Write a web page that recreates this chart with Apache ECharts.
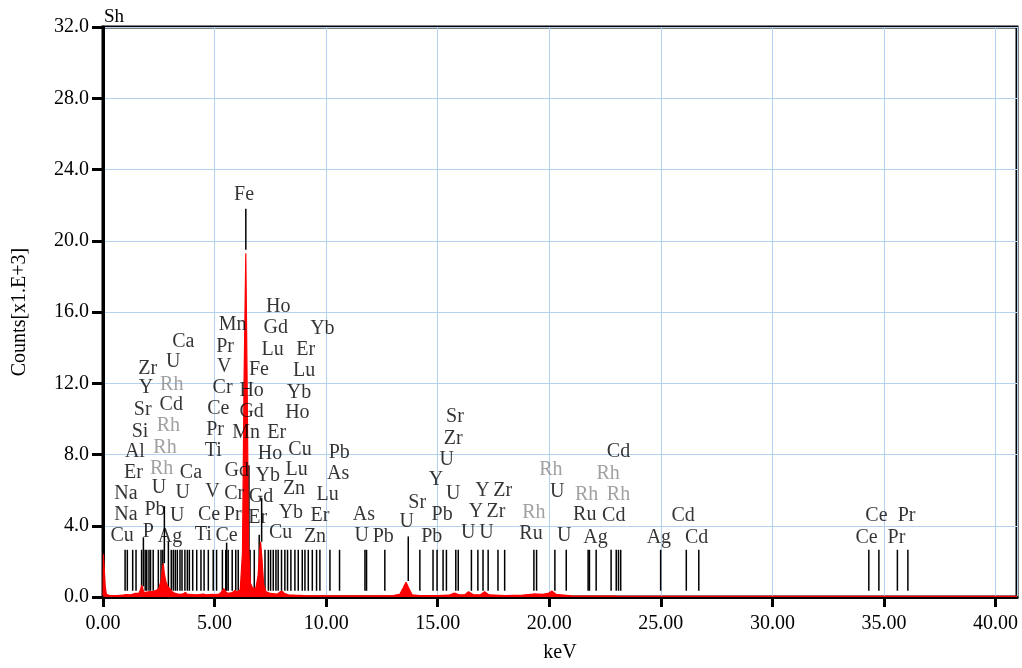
<!DOCTYPE html>
<html>
<head>
<meta charset="utf-8">
<script src="https://cdn.jsdelivr.net/npm/echarts@6/dist/echarts.min.js"></script>
<style>
html,body{margin:0;padding:0;background:#fff;}
#c{width:1022px;height:668px;}
</style>
</head>
<body>
<div id="c"></div>
<script>
// ---- Spectrum (keV, counts x1000) ----
const spectrumKeV = [0,0.02,0.06,0.1,0.15,0.3,0.6,0.9,1.0,1.25,1.45,1.5,1.6,1.68,1.74,1.8,1.86,1.95,2.02,2.1,2.16,2.22,2.3,2.4,2.5,2.6,2.66,2.7,2.75,2.82,2.9,3.0,3.1,3.2,3.4,3.6,3.69,3.78,4.0,4.2,4.5,4.6,4.9,5.0,5.2,5.32,5.41,5.5,5.6,5.8,5.9,6.0,6.15,6.25,6.32,6.4,6.46,6.52,6.6,6.7,6.85,6.95,7.02,7.06,7.12,7.2,7.3,7.5,7.8,7.95,8.04,8.12,8.3,8.6,9,10,11,12,13.0,13.3,13.45,13.58,13.7,13.85,14.2,15,15.5,15.75,15.95,16.2,16.38,16.6,16.9,17.1,17.3,18,18.8,19.3,19.7,19.95,20.12,20.3,21,23,26,30,36,40.96];
const spectrumCounts = [0.1,2.4,2.3,0.6,0.15,0.08,0.08,0.1,0.14,0.12,0.2,0.22,0.2,0.4,0.66,0.4,0.22,0.28,0.36,0.3,0.36,0.3,0.32,0.38,0.5,0.9,1.6,1.88,1.3,0.85,0.6,0.45,0.3,0.22,0.15,0.18,0.26,0.16,0.14,0.12,0.16,0.12,0.15,0.14,0.16,0.3,0.48,0.3,0.2,0.25,0.36,0.3,0.4,2.5,12,19.3,12,3,0.8,0.5,0.5,1.2,2.6,3.1,2.2,0.7,0.3,0.2,0.16,0.3,0.32,0.2,0.12,0.1,0.08,0.07,0.07,0.07,0.08,0.15,0.5,0.83,0.5,0.12,0.08,0.08,0.1,0.22,0.12,0.12,0.3,0.12,0.12,0.3,0.12,0.08,0.1,0.17,0.15,0.2,0.33,0.15,0.06,0.05,0.04,0.04,0.03,0.03];

// ---- Element marker lines (keV) ----
const markerKeV = [0.99,1.09,1.33,1.48,1.73,1.89,1.96,2.06,2.13,2.25,2.48,2.60,2.68,3.06,3.15,3.24,3.33,3.45,3.54,3.67,3.78,3.87,4.02,4.20,4.39,4.53,4.72,4.94,
  5.09,5.35,5.50,5.61,5.79,5.95,6.06,6.59,6.78,7.26,7.41,7.51,7.63,7.75,7.85,8.0,8.15,8.27,8.42,8.6,8.75,8.93,9.05,9.2,9.38,9.57,9.72,
  10.17,10.6,11.74,11.81,12.63,14.2,14.79,14.97,15.24,15.39,15.81,15.92,16.51,16.8,17.03,17.26,17.7,18.0,19.31,19.43,20.25,20.76,21.74,21.8,22.1,22.77,23.0,23.1,23.2,24.99,26.14,26.7,34.32,34.77,35.6,36.07];
const markerTopCounts = 2.65;
const markerBottomCounts = 0.35;
const tallMarkerKeV = [6.40,1.81,2.75,2.93,5.54,6.54,7.11,7.00,13.68];
const tallMarkerTop = [21.8,3.35,5.1,3.1,3.05,7.4,5.55,3.5,3.4];
const tallMarkerBottom = [19.5,0.6,1.9,0.35,0.35,0.4,3.1,0.4,0.9];

// ---- Element labels ----
const elemNames = ['Cu','P','Ag','Ti','Ce','Cu','Zn','Na','Pb','U','Ce','Pr','Er','Yb','Er','Na','U','U','V','Cr','Gd','Zn','Lu','Er','Ca','Gd','Yb','Lu','As','Al','Ti','Ho','Cu','Pb','Si','Pr','Mn','Er','Sr','Cd','Ce','Gd','Ho','Y','Cr','Ho','Yb','Zr','U','V','Fe','Lu','Ca','Pr','Lu','Er','Mn','Gd','Yb','Ho','Fe',
  'Sr','Zr','U','Y','U','Sr','Pb','U','As','U','Pb','Pb','Y','Zr','Y','Zr','U','U','Ru','U','U','Cd','Ru','Cd','Ag','Ag','Cd','Cd','Ce','Pr','Ce','Pr'];
const elemKeV = [0.86,2.03,3.00,4.49,5.54,7.96,9.50,1.03,2.33,3.33,4.75,5.81,6.93,8.42,9.72,1.03,2.51,3.57,4.91,5.88,7.08,8.56,10.07,1.36,3.94,5.99,7.38,8.68,10.54,1.43,4.94,7.48,8.83,10.59,1.66,5.02,6.41,7.78,1.78,3.06,5.17,6.66,8.71,1.93,5.36,6.66,8.78,2.00,3.15,5.43,6.99,9.01,3.60,5.47,7.60,9.08,5.81,7.74,9.83,7.85,6.32,
  15.77,15.69,15.40,14.92,15.69,14.08,15.20,13.61,11.69,11.59,12.56,14.73,17.01,17.91,16.71,17.61,16.37,17.19,19.18,20.35,20.67,23.10,21.59,22.89,22.07,24.91,26.0,26.6,34.66,36.01,34.22,35.56];
const elemCounts = [3.63,3.82,3.54,3.68,3.63,3.78,3.54,4.79,5.07,4.74,4.79,4.79,4.61,4.89,4.71,5.94,6.28,6.04,6.06,5.96,5.78,6.22,5.91,7.17,7.17,7.24,6.96,7.29,7.06,8.35,8.37,8.22,8.46,8.26,9.46,9.56,9.37,9.37,10.68,10.94,10.72,10.57,10.5,11.93,11.93,11.74,11.65,13.0,13.35,13.07,12.91,12.89,14.48,14.24,14.06,14.06,15.48,15.26,15.21,16.46,22.75,
  10.26,9.06,7.89,6.74,5.94,5.48,4.79,4.37,4.76,3.59,3.54,3.54,6.13,6.13,4.98,4.93,3.78,3.78,3.74,6.09,3.63,8.35,4.79,4.74,3.5,3.5,4.74,3.5,4.71,4.71,3.5,3.5];
const rhLabelKeV = [2.63,2.78,2.93,3.08,19.31,20.07,22.64,21.67,23.10];
const rhLabelCounts = [7.39,8.56,9.79,12.07,4.89,7.29,7.11,5.91,5.91];

const xMin = 0, xMax = 40.96, xStep = 5;
const yMin = 0, yMax = 32, yStep = 4;

const FONT = "'Liberation Serif', 'Times New Roman', serif";

const spectrum = spectrumKeV.map((k, i) => [k, spectrumCounts[i]]);
const markers = markerKeV.map(k => [k, markerTopCounts, markerBottomCounts])
  .concat(tallMarkerKeV.map((k, i) => [k, tallMarkerTop[i], tallMarkerBottom[i]]));
const labels = elemNames.map((n, i) => [elemKeV[i], elemCounts[i], n]);
const rhLabels = rhLabelKeV.map((k, i) => [k, rhLabelCounts[i], 'Rh']);

const chart = echarts.init(document.getElementById('c'), null, {renderer: 'canvas'});
const labelSeries = (data, color) => ({
  type: 'scatter',
  data: data,
  symbolSize: 1,
  itemStyle: {color: 'transparent'},
  silent: true,
  z: 5,
  label: {
    show: true,
    position: 'inside',
    offset: [0, 3],
    formatter: p => p.data[2],
    color: color,
    fontFamily: FONT,
    fontSize: 20
  }
});

chart.setOption({
  animation: false,
  backgroundColor: '#fff',
  grid: {left: 103, right: 5, top: 27, bottom: 65, show: true, borderColor: '#000', borderWidth: 3, backgroundColor: 'transparent'},
  graphic: [{
    type: 'text', left: 104, top: 8,
    style: {text: 'Sh', font: '19px ' + FONT, fill: '#000'}
  }],
  xAxis: {
    type: 'value', min: xMin, max: xMax, interval: xStep,
    name: 'keV', nameLocation: 'middle', nameGap: 46,
    nameTextStyle: {fontFamily: FONT, fontSize: 20, color: '#000'},
    axisLine: {show: true, lineStyle: {color: '#000', width: 3}},
    axisTick: {show: true, length: 10, lineStyle: {color: '#000', width: 3}},
    axisLabel: {fontFamily: FONT, fontSize: 20, color: '#000', margin: 17, showMaxLabel: false,
      formatter: v => v.toFixed(2)},
    splitLine: {show: true, lineStyle: {color: '#b4d2f0', width: 1}}
  },
  yAxis: {
    type: 'value', min: yMin, max: yMax, interval: yStep,
    name: 'Counts[x1.E+3]', nameLocation: 'middle', nameGap: 73,
    nameTextStyle: {fontFamily: FONT, fontSize: 20, color: '#000'},
    axisLine: {show: true, lineStyle: {color: '#000', width: 3}},
    axisTick: {show: true, length: 11, lineStyle: {color: '#000', width: 3}},
    axisLabel: {fontFamily: FONT, fontSize: 20, color: '#000', margin: 14,
      formatter: v => v.toFixed(1)},
    splitLine: {show: true, lineStyle: {color: '#b4d2f0', width: 1}}
  },
  series: [
    {
      type: 'custom',
      data: markers,
      silent: true,
      z: 2,
      clip: true,
      renderItem: (params, api) => {
        const x = api.value(0);
        const p1 = api.coord([x, api.value(1)]);
        const p2 = api.coord([x, api.value(2)]);
        return {type: 'line', shape: {x1: p1[0], y1: p1[1], x2: p1[0], y2: p2[1]},
          style: {stroke: '#000', lineWidth: 1.5}};
      },
      encode: {x: 0, y: 1}
    },
    {
      type: 'line',
      data: spectrum,
      showSymbol: false,
      silent: true,
      z: 3,
      lineStyle: {color: '#ff0000', width: 1.2},
      areaStyle: {color: '#ff0000', opacity: 1}
    },
    labelSeries(labels, '#000'),
    labelSeries(rhLabels, '#8a8a8a')
  ]
});
</script>
</body>
</html>
